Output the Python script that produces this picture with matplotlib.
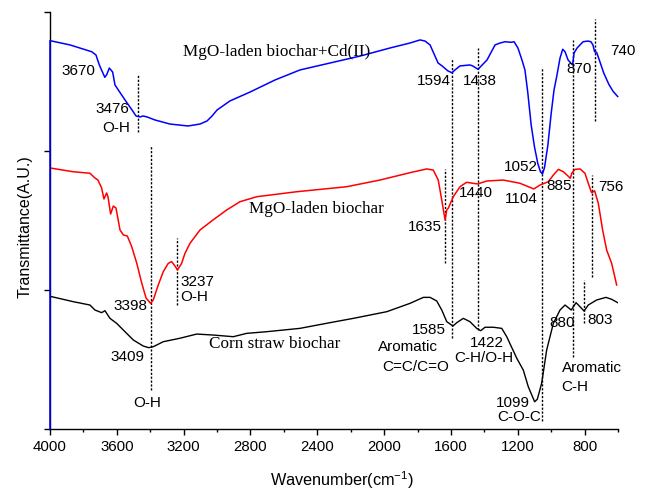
import numpy as np
import matplotlib
matplotlib.use("Agg")
import matplotlib.pyplot as plt
from matplotlib.ticker import MultipleLocator, NullFormatter

"""
SPECTRA (wavenumber in cm-1, transmittance in arbitrary offset units)
"""
cd_wn = [4000, 4000, 3880, 3750, 3725, 3705, 3672, 3660, 3645, 3625, 3611, 3551,
         3509, 3485, 3461, 3443, 3419, 3371, 3282, 3174, 3102, 3060, 3030, 3000,
         2923, 2803, 2653, 2504, 2324, 2144, 1965, 1845, 1785, 1755, 1725, 1677,
         1653, 1618, 1594, 1576, 1546, 1486, 1470, 1438, 1384, 1336, 1306, 1276,
         1240, 1222, 1199, 1175, 1157, 1140, 1120, 1100, 1080, 1064, 1052, 1040,
         1020, 1000, 983, 967, 947, 931, 917, 899, 872, 863, 845, 809, 780, 762,
         750, 740, 728, 712, 685, 655, 630, 602]
cd_tr = [0.0, 2.794, 2.763, 2.714, 2.691, 2.62, 2.53, 2.55, 2.597, 2.568, 2.475, 2.367,
         2.295, 2.252, 2.245, 2.252, 2.245, 2.223, 2.194, 2.180, 2.194, 2.216, 2.252, 2.295,
         2.360, 2.424, 2.511, 2.583, 2.633, 2.683, 2.741, 2.777, 2.799, 2.791, 2.763, 2.633,
         2.612, 2.576, 2.563, 2.583, 2.612, 2.619, 2.612, 2.588, 2.655, 2.763, 2.777, 2.786,
         2.782, 2.786, 2.741, 2.655, 2.583, 2.42, 2.19, 2.03, 1.91, 1.85, 1.835, 1.88,
         2.04, 2.27, 2.439, 2.535, 2.669, 2.732, 2.714, 2.655, 2.619, 2.705, 2.741, 2.786, 2.791, 2.786,
         2.763, 2.714, 2.71, 2.655, 2.56, 2.48, 2.43, 2.392]

mgo_wn = [3990, 3862, 3761, 3731, 3713, 3691, 3677, 3661, 3653, 3637, 3621, 3605,
          3581, 3561, 3537, 3511, 3481, 3451, 3425, 3398, 3382, 3352, 3322, 3292,
          3272, 3252, 3237, 3212, 3192, 3162, 3102, 3024, 2942, 2863, 2763, 2523,
          2224, 2025, 1845, 1745, 1706, 1676, 1655, 1635, 1625, 1616, 1586, 1546,
          1506, 1470, 1440, 1386, 1287, 1187, 1104, 1067, 1017, 987, 957, 927,
          885, 877, 857, 827, 798, 778, 760, 756, 740, 718, 692, 668, 638, 608]
mgo_tr = [1.876, 1.851, 1.840, 1.806, 1.791, 1.734, 1.655, 1.698, 1.671, 1.547, 1.604, 1.590,
          1.432, 1.396, 1.388, 1.312, 1.194, 1.050, 0.942, 0.904, 0.928, 1.036, 1.132, 1.192,
          1.204, 1.173, 1.144, 1.192, 1.264, 1.336, 1.432, 1.504, 1.576, 1.635, 1.671, 1.707,
          1.743, 1.791, 1.844, 1.871, 1.863, 1.791, 1.647, 1.504, 1.576, 1.588, 1.671, 1.743,
          1.775, 1.768, 1.763, 1.784, 1.791, 1.768, 1.727, 1.755, 1.779, 1.827, 1.868, 1.851,
          1.804, 1.840, 1.868, 1.871, 1.840, 1.768, 1.705, 1.700, 1.714, 1.624, 1.432, 1.288, 1.192, 1.036]

corn_wn = [3990, 3861, 3761, 3731, 3691, 3671, 3641, 3601, 3561, 3501, 3442, 3409,
           3382, 3322, 3222, 3122, 3023, 2903, 2823, 2703, 2504, 2324, 2184, 1984,
           1845, 1765, 1725, 1685, 1655, 1625, 1588, 1565, 1526, 1486, 1446, 1422,
           1396, 1346, 1296, 1266, 1206, 1167, 1137, 1099, 1083, 1057, 1027, 987,
           947, 917, 880, 851, 803, 778, 728, 672, 638, 602]
corn_tr = [0.952, 0.916, 0.892, 0.856, 0.837, 0.851, 0.796, 0.760, 0.712, 0.640, 0.597, 0.585,
           0.592, 0.628, 0.653, 0.683, 0.676, 0.664, 0.688, 0.700, 0.724, 0.765, 0.796, 0.844,
           0.904, 0.947, 0.947, 0.921, 0.856, 0.772, 0.741, 0.765, 0.796, 0.772, 0.724, 0.707,
           0.732, 0.732, 0.724, 0.664, 0.509, 0.424, 0.304, 0.196, 0.214, 0.329, 0.568, 0.760,
           0.856, 0.892, 0.856, 0.909, 0.849, 0.892, 0.928, 0.947, 0.933, 0.909]

# band positions marked with dotted guides: (wavenumber, lower, upper)
guides = [(3476, 2.137, 2.554), (3398, 0.281, 2.043), (3237, 0.892, 1.374),
          (1635, 1.194, 1.871), (1594, 0.655, 2.669), (1438, 0.712, 2.741),
          (1052, 0.058, 2.604), (870, 0.518, 2.799), (756, 1.094, 1.827),
          (740, 2.216, 2.950), (803, 0.763, 1.072)]

# band labels: (text, wavenumber, y, horizontal alignment)
band_labels = [("3670", 3828, 2.578, "center"), ("3476", 3626, 2.300, "center"),
               ("O-H", 3602, 2.168, "center"), ("1594", 1704, 2.506, "center"),
               ("1438", 1427, 2.506, "center"), ("870", 835, 2.590, "center"),
               ("740", 573, 2.719, "center"), ("1052", 1179, 1.887, "center"),
               ("1440", 1453, 1.696, "center"), ("1104", 1177, 1.655, "center"),
               ("885", 954, 1.748, "center"), ("756", 641, 1.739, "center"),
               ("1635", 1757, 1.451, "center"), ("3398", 3516, 0.887, "center"),
               ("3237", 3222, 1.060, "left"), ("O-H", 3222, 0.952, "left"),
               ("3409", 3536, 0.516, "center"), ("O-H", 3416, 0.185, "center"),
               ("1585", 1735, 0.712, "center"), ("Aromatic", 1855, 0.588, "center"),
               ("C=C/C=O", 1810, 0.448, "center"), ("1422", 1386, 0.617, "center"),
               ("C-H/O-H", 1406, 0.509, "center"), ("1099", 1230, 0.185, "center"),
               ("C-O-C", 1192, 0.088, "center"), ("880", 935, 0.760, "center"),
               ("803", 708, 0.784, "center"), ("Aromatic", 937, 0.437, "left"),
               ("C-H", 937, 0.304, "left")]

series_names = [("MgO-laden biochar+Cd(II)", 3206, 2.714),
                ("MgO-laden biochar", 2807, 1.583),
                ("Corn straw biochar", 3048, 0.612)]

plt.rcParams["font.family"] = ["Liberation Sans", "DejaVu Sans"]
plt.rcParams["mathtext.fontset"] = "custom"
plt.rcParams["mathtext.rm"] = "Liberation Sans"
plt.rcParams["mathtext.it"] = "Liberation Sans"

fig = plt.figure(figsize=(6.48, 4.93), dpi=100)
ax = fig.add_axes([50 / 648, 64 / 493, 568 / 648, 417 / 493])

ax.plot(cd_wn, cd_tr, color="#0000ff", lw=1.1, clip_on=False, zorder=3)
ax.plot(mgo_wn, mgo_tr, color="#ff0000", lw=1.1, zorder=3)
ax.plot(corn_wn, corn_tr, color="black", lw=1.0, zorder=3)

for wn, lo, hi in guides:
    ax.plot([wn, wn], [lo, hi], color="black", lw=1.0,
            linestyle=(0, (1.6, 1.2)), zorder=2)

for txt, wn, y, ha in band_labels:
    ax.text(wn, y, txt, fontsize=11, ha=ha, va="center", clip_on=False)

for txt, wn, y in series_names:
    ax.text(wn, y, txt, fontsize=12.3, ha="left", va="center",
            family=["Liberation Serif", "DejaVu Serif"])

ax.set_xlim(4000, 600)
ax.set_ylim(0, 3)
ax.xaxis.set_major_locator(MultipleLocator(400))
ax.xaxis.set_minor_locator(MultipleLocator(200))
ax.yaxis.set_major_locator(MultipleLocator(1))
ax.yaxis.set_major_formatter(NullFormatter())
ax.tick_params(axis="x", which="major", direction="out", length=4.2, width=1,
               labelsize=10.8, pad=3.5)
ax.tick_params(axis="x", which="minor", direction="out", length=2.4, width=1)
ax.tick_params(axis="y", which="major", direction="out", length=4, width=1)
for side in ["top", "right"]:
    ax.spines[side].set_visible(False)
for side in ["left", "bottom"]:
    ax.spines[side].set_linewidth(1.0)

fig.text(25 / 648, 1 - 226.7 / 493, "Transmittance(A.U.)", rotation=90,
         ha="center", va="center", fontsize=11.5)
fig.text(341.7 / 648, 1 - 480 / 493, r"Wavenumber(cm$^{-1}$)",
         ha="center", va="center", fontsize=11.7)

fig.savefig("out.png", dpi=100)
